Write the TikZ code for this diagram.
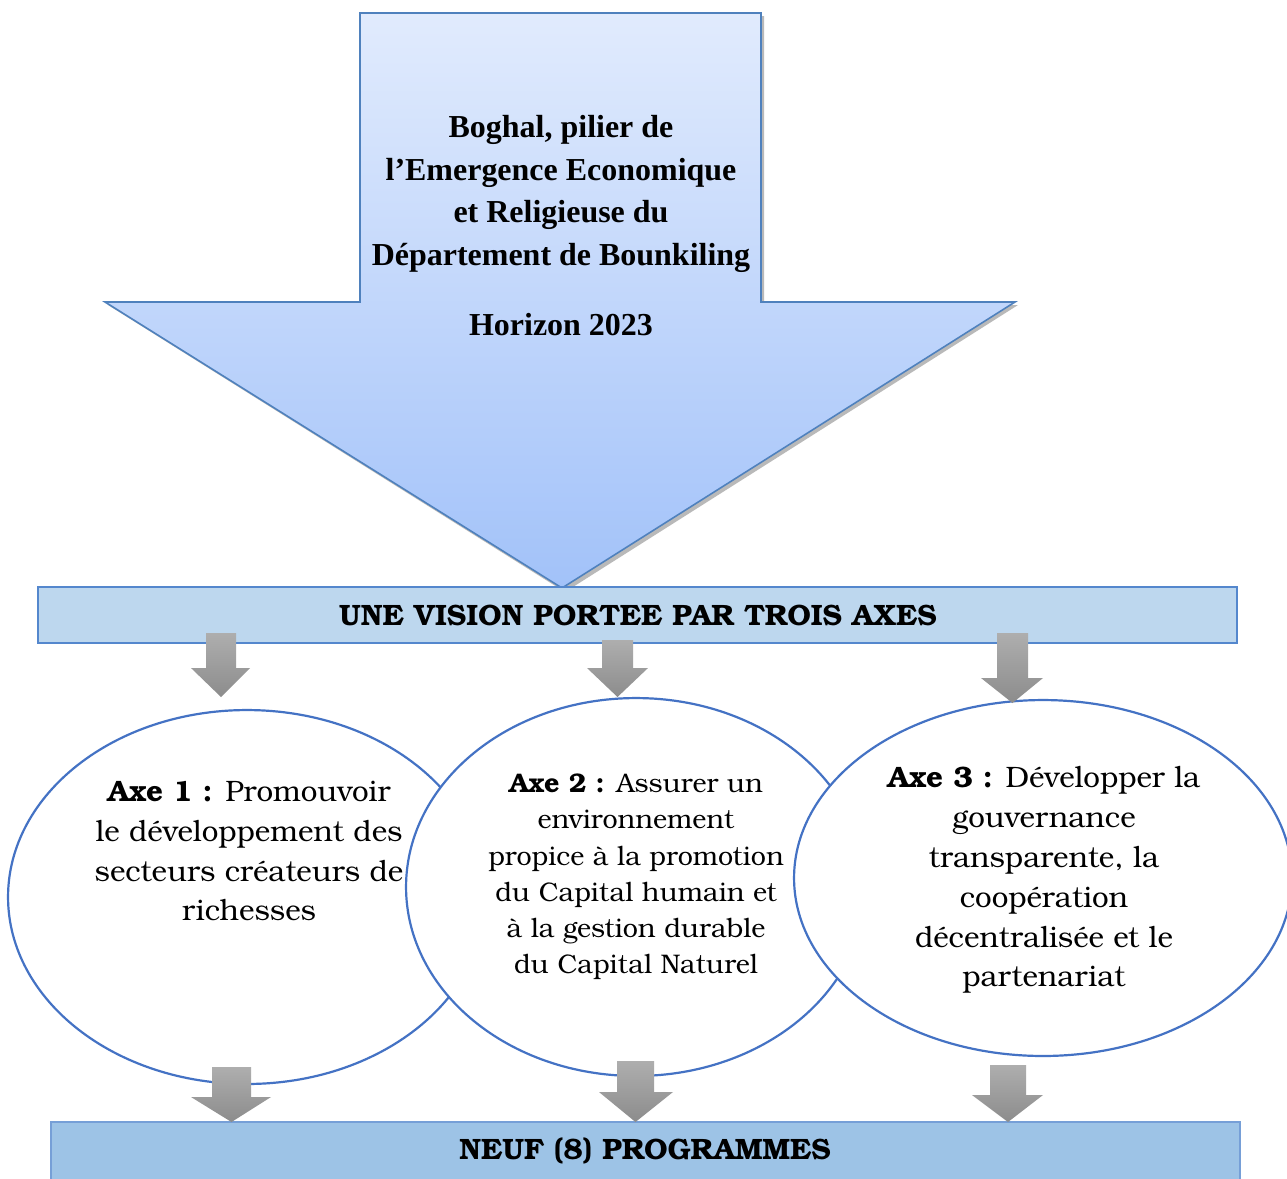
\documentclass[tikz,border=0pt]{standalone}
\usepackage{fontspec}
\setmainfont{Liberation Serif}
\newfontfamily\bonum{texgyrebonum}[Extension=.otf,UprightFont=*-regular,BoldFont=*-bold]
\usetikzlibrary{shapes.geometric}
\definecolor{arrowline}{RGB}{79,129,189}
\definecolor{arrowtop}{RGB}{225,235,253}
\definecolor{arrowbot}{RGB}{162,194,249}
\definecolor{barfillA}{RGB}{189,215,238}
\definecolor{barfillB}{RGB}{157,195,230}
\definecolor{barline}{RGB}{84,135,205}
\definecolor{ellline}{RGB}{68,114,196}
\definecolor{graytop}{RGB}{174,174,174}
\definecolor{graybot}{RGB}{140,140,140}
\tikzset{
  axe/.style={ellipse, draw=ellline, line width=1.25pt, fill=white, inner sep=0pt},
  bar/.style={draw=barline, line width=0.8pt},
  axetext/.style={align=center, font=\bonum\fontsize{16.8}{22.7}\selectfont, inner sep=0pt},
  bartext/.style={font=\bonum\bfseries\fontsize{16.75}{20}\selectfont, inner sep=0pt},
  graystyle/.style={top color=graytop, bottom color=graybot, draw=none}
}
% shaft left, shaft right, top, head left, head right, head y, tip y
\newcommand\grayblock[7]{%
  \path[graystyle] (#1,#3) -- (#2,#3) -- (#2,#6) -- (#5,#6) -- ({(#1+#2)/2},#7) -- (#4,#6) -- (#1,#6) -- cycle;}
\begin{document}
\begin{tikzpicture}[x=0.02cm,y=-0.02cm]
\clip (0,0) rectangle (1287,1178);
\fill[white] (0,0) rectangle (1287,1178);
% big arrow shadow
\fill[gray!55] (363,16) -- (764,16) -- (764,305) -- (1018,305) -- (565,592) -- (108,305) -- (363,305) -- cycle;
% big arrow
\draw[arrowline, line width=0.9pt, top color=arrowtop, bottom color=arrowbot]
  (360,13) -- (761,13) -- (761,302) -- (1015,302) -- (562,588) -- (105,302) -- (360,302) -- cycle;
\node[font=\bfseries\fontsize{18.2}{24.3}\selectfont, align=center, inner sep=0pt] (vision) at (561,194)
  {Boghal, pilier de\\l’Emergence Economique\\et Religieuse du\\Département de Bounkiling};
\node[font=\bfseries\fontsize{18.2}{24.1}\selectfont, inner sep=0pt] (horizon) at (561,325) {Horizon 2023};
% bar 1
\node[bar, fill=barfillA, minimum width=23.98cm, minimum height=1.12cm, inner sep=0pt] (bar1) at (637.5,615) {};
\node[bartext] (bar1t) at (638,615) {UNE VISION PORTEE PAR TROIS AXES};
% ellipses
\node[axe, minimum width=9.56cm, minimum height=7.48cm] (e1) at (247,897) {};
\node[axe, minimum width=9.20cm, minimum height=7.56cm] (e2) at (636,887) {};
\node[axe, minimum width=9.96cm, minimum height=7.12cm] (e3) at (1043,878) {};
\node[axetext] (t1) at (249,851) {\textbf{Axe 1 :} Promouvoir\\le développement des\\secteurs créateurs de\\richesses};
\node[axetext, font=\bonum\fontsize{15.3}{20.6}\selectfont] (t2) at (636,877) {\textbf{Axe 2 :} Assurer un\\environnement\\propice à la promotion\\du Capital humain et\\à la gestion durable\\du Capital Naturel};
\node[axetext] (t3) at (1044,880) {\textbf{Axe 3 :} Développer la\\gouvernance\\transparente, la\\coopération\\décentralisée et le\\partenariat};
% bottom bar
\node[bar, draw=barline!80, fill=barfillB, minimum width=23.78cm, minimum height=1.6cm, inner sep=0pt] (bar2) at (645.5,1162) {};
\node[bartext] (bar2t) at (645,1151) {NEUF (8) PROGRAMMES};
% gray arrows
\grayblock{206}{236}{633}{191}{250}{668}{697}
\grayblock{602}{633}{640}{587}{648}{668}{697}
\grayblock{997}{1028}{633}{981}{1043}{678}{703}
\grayblock{212}{251}{1067}{191}{271}{1097}{1122}
\grayblock{617}{654}{1061}{599}{673}{1092}{1122}
\grayblock{990}{1026}{1065}{972}{1043}{1095}{1122}
\end{tikzpicture}
\end{document}
